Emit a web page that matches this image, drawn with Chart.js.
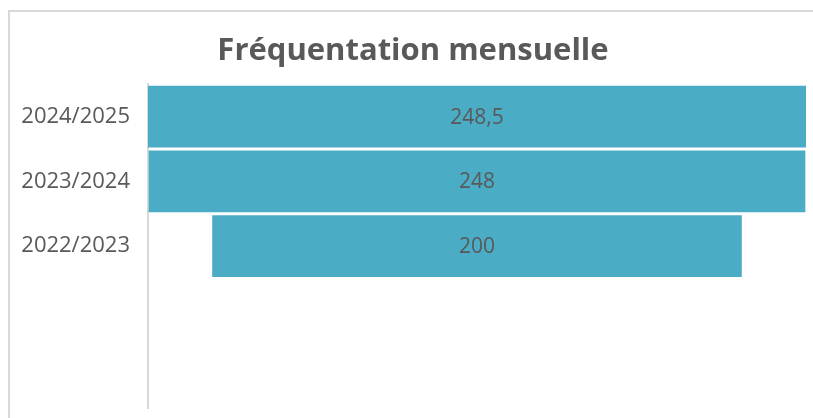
<!DOCTYPE html>
<html lang="fr">
<head>
<meta charset="utf-8">
<title>Fréquentation mensuelle</title>
<script src="https://cdn.jsdelivr.net/npm/chart.js@4/dist/chart.umd.min.js"></script>
<style>
    html, body { margin: 0; padding: 0; background: #fff; }
    #wrap { position: relative; width: 813px; height: 418px; overflow: hidden; }
    #frame {
        position: absolute; left: 8px; top: 10px; width: 900px; height: 500px;
        border-left: 2px solid #d9d9d9; border-top: 2px solid #d9d9d9;
    }
    #chart { position: absolute; left: 0; top: 0; }
</style>
</head>
<body>
<div id="wrap">
    <div id="frame"></div>
    <canvas id="chart" width="813" height="418"></canvas>
</div>
<script>
// Data
const seasons = ["2024/2025", "2023/2024", "2022/2023", "", ""];
const attendance = [248.5, 248, 200, null, null];

document.addEventListener("DOMContentLoaded", () => {
    const top = Math.max(...attendance.filter(v => v !== null));

    // funnel look: each bar is centred on the widest one
    const funnel = attendance.map(v => v === null ? null : [(top - v) / 2, (top + v) / 2]);

    // value labels in the middle of each bar, French decimal comma
    const centerLabels = {
        id: "centerLabels",
        afterDatasetsDraw(chart) {
            const ctx = chart.ctx;
            const meta = chart.getDatasetMeta(0);
            ctx.save();
            ctx.font = "21px 'Open Sans'";
            ctx.fillStyle = "#595959";
            ctx.textAlign = "center";
            ctx.textBaseline = "middle";
            meta.data.forEach((bar, i) => {
                const v = attendance[i];
                if (v === null) return;
                const x = (bar.x + bar.base) / 2;
                ctx.fillText(v.toLocaleString("fr-FR"), x, bar.y + 1);
            });
            ctx.restore();
        }
    };

    Chart.defaults.font.family = "'Open Sans', sans-serif";
    Chart.defaults.color = "#595959";

    const ctx = document.getElementById("chart").getContext("2d");
    new Chart(ctx, {
        type: "bar",
        data: {
            labels: seasons,
            datasets: [
                {
                    label: "Fréquentation",
                    data: funnel,
                    backgroundColor: "#4bacc6",
                    borderWidth: 0,
                    borderSkipped: false,
                    categoryPercentage: 1,
                    barPercentage: 0.955,
                },
            ],
        },
        options: {
            indexAxis: "y",
            responsive: false,
            animation: false,
            layout: {
                padding: { top: 14, right: 7, bottom: 10, left: 20 },
            },
            plugins: {
                legend: { display: false },
                tooltip: { enabled: false },
                title: {
                    display: true,
                    text: "Fréquentation mensuelle",
                    color: "#595959",
                    font: { size: 31, weight: "bold" },
                    padding: { top: 19, bottom: 14 },
                },
            },
            scales: {
                x: {
                    display: false,
                    min: 0,
                    max: top,
                },
                y: {
                    grid: {
                        display: true,
                        drawOnChartArea: false,
                        drawTicks: true,
                        tickLength: 18,
                        color: "rgba(0,0,0,0)",
                    },
                    border: { display: true, color: "#d9d9d9", width: 2 },
                    ticks: {
                        color: "#595959",
                        font: { size: 22 },
                        padding: 0,
                    },
                    afterFit: function (scale) {
                        scale.width = 128;
                        scale.paddingTop = 0;
                        scale.paddingBottom = 0;
                    },
                },
            },
        },
        plugins: [centerLabels],
    });
});
</script>
</body>
</html>
